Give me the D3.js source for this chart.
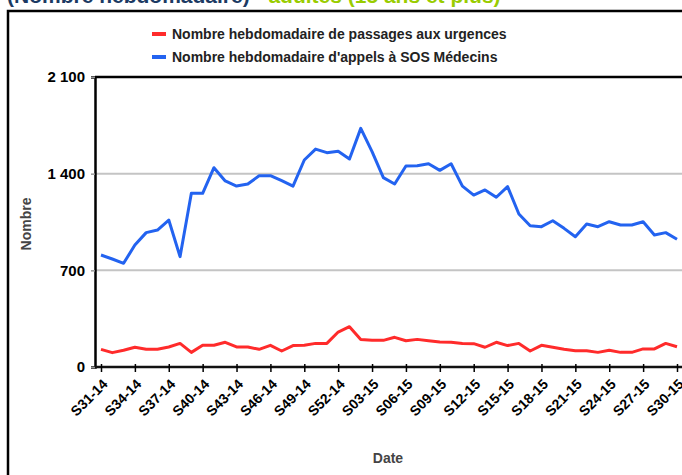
<!DOCTYPE html>
<html>
<head>
<meta charset="utf-8">
<script src="https://cdn.jsdelivr.net/npm/d3@7"></script>
<style>
  body { margin: 0; background: #fff; }
  svg { display: block; font-family: "Liberation Sans", Arial, sans-serif; }
</style>
</head>
<body>
<div id="container"></div>
<script>
const width = 682;
const height = 475;

// weeks S31-14 .. S30-15
const weeks = ["S31-14","S32-14","S33-14","S34-14","S35-14","S36-14","S37-14","S38-14","S39-14","S40-14",
  "S41-14","S42-14","S43-14","S44-14","S45-14","S46-14","S47-14","S48-14","S49-14","S50-14",
  "S51-14","S52-14","S01-15","S02-15","S03-15","S04-15","S05-15","S06-15","S07-15","S08-15",
  "S09-15","S10-15","S11-15","S12-15","S13-15","S14-15","S15-15","S16-15","S17-15","S18-15",
  "S19-15","S20-15","S21-15","S22-15","S23-15","S24-15","S25-15","S26-15","S27-15","S28-15",
  "S29-15","S30-15"];

const tickWeeks = ["S31-14","S34-14","S37-14","S40-14","S43-14","S46-14","S49-14","S52-14","S03-15",
  "S06-15","S09-15","S12-15","S15-15","S18-15","S21-15","S24-15","S27-15","S30-15"];

const urgences = [128,104,121,143,128,128,145,171,106,157,157,179,145,145,128,157,116,155,157,171,
  171,253,292,200,193,193,215,190,200,190,181,179,171,169,143,179,155,171,116,157,
  143,128,118,118,106,121,106,106,131,131,171,147];

const sosMedecins = [811,782,751,883,973,992,1064,799,1258,1258,1443,1347,1310,1325,1385,1385,1349,1310,1499,1578,
  1552,1562,1506,1728,1559,1371,1325,1455,1458,1472,1424,1472,1310,1245,1282,1229,1306,1108,1023,1016,
  1059,1004,943,1035,1016,1052,1028,1028,1052,956,973,925];

const yTicks = [0, 700, 1400, 2100];

const series = [
  { name: "Nombre hebdomadaire de passages aux urgences", color: "#ff2b2b", values: urgences },
  { name: "Nombre hebdomadaire d'appels à SOS Médecins", color: "#2363f0", values: sosMedecins }
];

const plot = { left: 95, top: 77, bottom: 367, right: 690 };

const x = d3.scalePoint().domain(weeks).range([101, 677]);
const y = d3.scaleLinear().domain([0, 2100]).range([plot.bottom, plot.top]);
const fmt = v => d3.format(",")(v).replace(",", " ");

const svg = d3.select("#container").append("svg")
  .attr("width", width)
  .attr("height", height);

svg.append("rect").attr("width", width).attr("height", height).attr("fill", "#fff");

// title (cut at the top of the picture)
const title = svg.append("text")
  .attr("x", 7).attr("y", 3)
  .attr("font-size", 21).attr("font-weight", "bold");
title.append("tspan").attr("fill", "#1b3a63").text("(Nombre hebdomadaire) - ");
title.append("tspan").attr("fill", "#99cc00").text("adultes (15 ans et plus)");

// outer frame
svg.append("rect")
  .attr("x", 8).attr("y", 11)
  .attr("width", 700).attr("height", 500)
  .attr("fill", "none").attr("stroke", "#000").attr("stroke-width", 2.5);

// legend
const legend = svg.append("g").selectAll("g")
  .data(series)
  .enter().append("g")
  .attr("transform", (d, i) => `translate(152,${34 + i * 23})`);
legend.append("line")
  .attr("x1", 0).attr("x2", 14)
  .attr("stroke", d => d.color).attr("stroke-width", 4);
legend.append("text")
  .attr("x", 20).attr("dy", "0.35em")
  .attr("font-size", 14).attr("font-weight", "bold").attr("fill", "#222")
  .text(d => d.name);

// gridlines
svg.append("g")
  .selectAll("line")
  .data(yTicks.filter(v => v > 0 && v < 2100))
  .enter().append("line")
  .attr("x1", plot.left).attr("x2", plot.right)
  .attr("y1", d => y(d)).attr("y2", d => y(d))
  .attr("stroke", "#c4c4c4").attr("stroke-width", 2);

// top border of the plot
svg.append("line")
  .attr("x1", plot.left).attr("x2", plot.right)
  .attr("y1", plot.top).attr("y2", plot.top)
  .attr("stroke", "#000").attr("stroke-width", 2.5);

// y axis
const yAxis = svg.append("g")
  .attr("transform", `translate(${plot.left},0)`)
  .call(d3.axisLeft(y).tickValues(yTicks).tickFormat(fmt).tickSize(4).tickPadding(6));
yAxis.select(".domain").attr("stroke", "#000").attr("stroke-width", 2.5);
yAxis.selectAll(".tick line").attr("stroke", "#999").attr("stroke-width", 1.5);
yAxis.selectAll(".tick text")
  .attr("font-size", 15).attr("font-weight", "bold").attr("fill", "#000")
  .attr("font-family", "Liberation Sans, Arial, sans-serif");

// x axis
const xAxis = svg.append("g")
  .attr("transform", `translate(0,${plot.bottom})`)
  .call(d3.axisBottom(x).tickValues(tickWeeks).tickSize(5).tickSizeOuter(0));
xAxis.select(".domain")
  .attr("d", `M${plot.left},0H${plot.right}`)
  .attr("stroke", "#111").attr("stroke-width", 2.5);
xAxis.selectAll(".tick line").attr("y1", -3).attr("stroke", "#000").attr("stroke-width", 1.5);
xAxis.selectAll(".tick text")
  .attr("font-size", 14).attr("font-weight", "bold").attr("fill", "#000")
  .attr("font-family", "Liberation Sans, Arial, sans-serif")
  .attr("text-anchor", "end")
  .attr("y", 0).attr("dy", 0)
  .attr("transform", "translate(7,18) rotate(-45)");

// axis titles
svg.append("text")
  .attr("transform", `translate(31,${(plot.top + plot.bottom) / 2 + 2}) rotate(-90)`)
  .attr("text-anchor", "middle")
  .attr("font-size", 14).attr("font-weight", "bold").attr("fill", "#444")
  .text("Nombre");
svg.append("text")
  .attr("x", 388).attr("y", 463)
  .attr("text-anchor", "middle")
  .attr("font-size", 14).attr("font-weight", "bold").attr("fill", "#444")
  .text("Date");

// lines
const line = d3.line()
  .x((d, i) => x(weeks[i]))
  .y(d => y(d));

svg.append("g")
  .selectAll("path")
  .data(series)
  .enter().append("path")
  .attr("fill", "none")
  .attr("stroke", d => d.color)
  .attr("stroke-width", 3)
  .attr("stroke-linejoin", "round")
  .attr("d", d => line(d.values));
</script>
</body>
</html>
